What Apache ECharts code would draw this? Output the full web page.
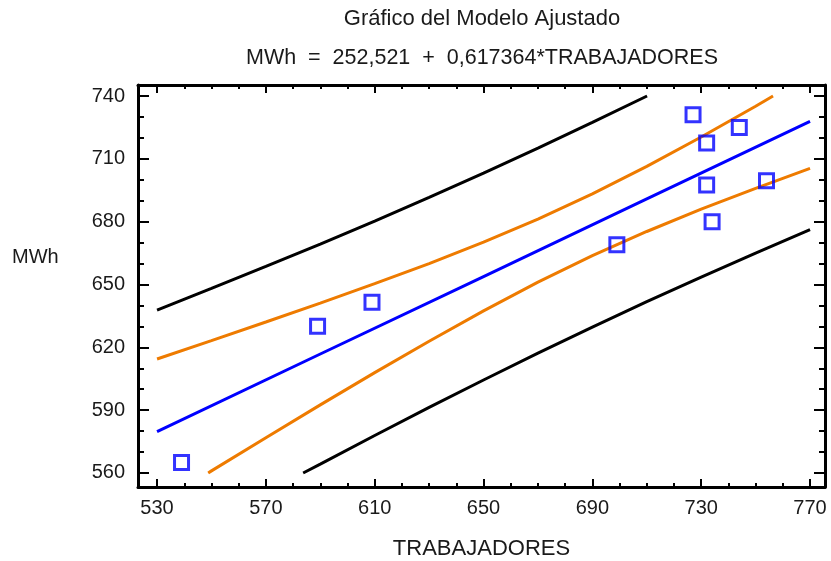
<!DOCTYPE html>
<html>
<head>
<meta charset="utf-8">
<script src="https://cdn.jsdelivr.net/npm/echarts@6/dist/echarts.min.js"></script>
<style>html,body{margin:0;padding:0;background:#fff;}#c{width:831px;height:561px;}</style>
</head>
<body>
<div id="c"></div>
<script>
// Observed points
const obsX = [539, 589, 609, 699, 727, 732, 744, 732, 734, 754];
const obsY = [565, 630, 641.5, 669, 731, 717.5, 725, 697.5, 680, 699.5];
// Fitted line
const fitLine = [[530,579.7],[590,616.8],[650,653.8],[710,690.9],[770,727.9]];
// Confidence limits (orange)
const confUpper = [[530,614.4],[550,623.2],[570,632.1],[590,641.1],[610,650.4],[630,660.0],[650,670.2],[670,681.2],[690,693.3],[710,706.4],[730,720.4],[750,735.1],[756.4,740]];
const confLower = [[548.8,560],[550,561.0],[570,576.8],[590,592.5],[610,607.9],[630,622.9],[650,637.4],[670,651.1],[690,663.8],[710,675.3],[730,686.0],[750,695.9],[770,705.4]];
// Prediction limits (black)
const predUpper = [[530,637.8],[550,648.1],[570,658.6],[590,669.3],[610,680.3],[630,691.6],[650,703.2],[670,715.1],[690,727.4],[710.1,740]];
const predLower = [[583.7,560],[590,564.2],[610,577.9],[630,591.3],[650,604.4],[670,617.2],[690,629.6],[710,641.8],[730,653.5],[750,665.0],[770,676.2]];
// Tick values
const xMajor = [530, 570, 610, 650, 690, 730, 770];
const xMinor = [530,540,550,560,570,580,590,600,610,620,630,640,650,660,670,680,690,700,710,720,730,740,750,760,770];
const yMajor = [560, 590, 620, 650, 680, 710, 740];
const yMinor = [560,570,580,590,600,610,620,630,640,650,660,670,680,690,700,710,720,730,740];

const XMIN = 523.0, XMAX = 775.5, YMIN = 553.3, YMAX = 745.25;
const FONT = '"Liberation Sans", Arial, sans-serif';
const TXT = '#1a1a1a';
const ORANGE = '#EE7B00';

const gridRect = {left: 138, top: 85, width: 687, height: 402, outerBoundsMode: 'none', containLabel: false};

function xAx(grid, pos, major) {
  return {
    type: 'value', gridIndex: grid, position: pos, min: XMIN, max: XMAX,
    axisLine: {show: major, onZero: false, lineStyle: {color: '#000', width: 3}},
    axisTick: {show: true, inside: true, length: major ? 8 : 4, customValues: major ? xMajor : xMinor, lineStyle: {color: '#000', width: 2}},
    axisLabel: {show: major && pos === 'bottom', customValues: xMajor, fontFamily: FONT, fontSize: 20, color: TXT, margin: 11},
    splitLine: {show: false},
    name: (major && pos === 'bottom') ? 'TRABAJADORES' : '',
    nameLocation: 'middle', nameGap: 51,
    nameTextStyle: {fontFamily: FONT, fontSize: 22, color: TXT}
  };
}
function yAx(grid, pos, major) {
  return {
    type: 'value', gridIndex: grid, position: pos, min: YMIN, max: YMAX,
    axisLine: {show: major, onZero: false, lineStyle: {color: '#000', width: 3}},
    axisTick: {show: true, inside: true, length: major ? 11 : 6, customValues: major ? yMajor : yMinor, lineStyle: {color: '#000', width: 2}},
    axisLabel: {show: major && pos === 'left', customValues: yMajor, fontFamily: FONT, fontSize: 20, color: TXT, margin: 13},
    splitLine: {show: false}
  };
}

function lineSeries(data, color, name) {
  return {
    type: 'line', name: name, xAxisIndex: 0, yAxisIndex: 0, data: data,
    showSymbol: false, symbol: 'none', silent: true, animation: false,
    lineStyle: {color: color, width: 3}, z: 2
  };
}

const chart = echarts.init(document.getElementById('c'));
chart.setOption({
  backgroundColor: '#fff',
  animation: false,
  title: [
    {text: 'Gráfico del Modelo Ajustado', left: 482, top: 8, textAlign: 'center', padding: 0,
     textStyle: {fontFamily: FONT, fontSize: 22, fontWeight: 'normal', color: TXT}},
    {text: 'MWh  =  252,521  +  0,617364*TRABAJADORES', left: 482, top: 47, textAlign: 'center', padding: 0,
     textStyle: {fontFamily: FONT, fontSize: 21.5, fontWeight: 'normal', color: TXT}},
    {text: 'MWh', left: 12, top: 247, padding: 0,
     textStyle: {fontFamily: FONT, fontSize: 20, fontWeight: 'normal', color: TXT}}
  ],
  grid: [Object.assign({}, gridRect), Object.assign({}, gridRect)],
  xAxis: [xAx(0, 'bottom', true), xAx(0, 'top', true), xAx(1, 'bottom', false), xAx(1, 'top', false)],
  yAxis: [yAx(0, 'left', true), yAx(0, 'right', true), yAx(1, 'left', false), yAx(1, 'right', false)],
  series: [
    lineSeries(predUpper, '#000', 'predUpper'),
    lineSeries(predLower, '#000', 'predLower'),
    lineSeries(confUpper, ORANGE, 'confUpper'),
    lineSeries(confLower, ORANGE, 'confLower'),
    lineSeries(fitLine, '#0000FF', 'fit'),
    {
      type: 'scatter', xAxisIndex: 0, yAxisIndex: 0,
      data: obsX.map((x, i) => [x, obsY[i]]),
      symbol: 'rect', symbolSize: 14, z: 3,
      itemStyle: {color: 'rgba(255,255,255,0)', borderColor: '#0000FF', borderWidth: 3}
    }
  ]
});
</script>
</body>
</html>
